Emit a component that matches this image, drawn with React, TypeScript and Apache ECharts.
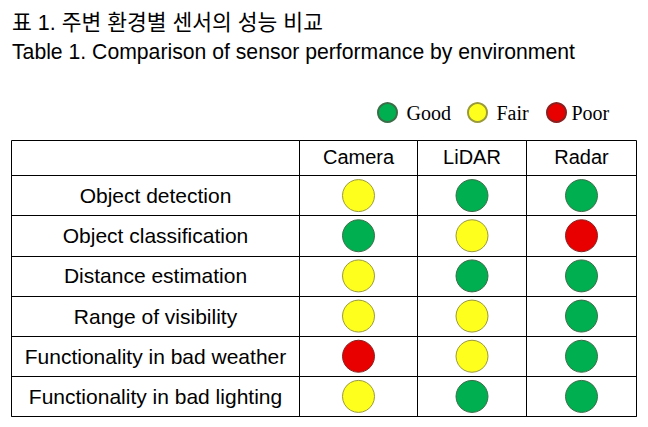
import React, { useEffect, useRef } from "react";
import * as echarts from "echarts";

const titleKo = "표 1. 주변 환경별 센서의 성능 비교";
const titleEn = "Table 1. Comparison of sensor performance by environment";

const features = [
  "Object detection",
  "Object classification",
  "Distance estimation",
  "Range of visibility",
  "Functionality in bad weather",
  "Functionality in bad lighting",
];
const sensors = ["Camera", "LiDAR", "Radar"];
const ratings = ["Good", "Fair", "Poor"];

const cameraRatings = ["Fair", "Good", "Fair", "Fair", "Poor", "Fair"];
const lidarRatings = ["Good", "Fair", "Good", "Fair", "Fair", "Good"];
const radarRatings = ["Good", "Poor", "Good", "Good", "Good", "Good"];
const sensorRatings = [cameraRatings, lidarRatings, radarRatings];

const ratingFill: Record<string, string> = {
  Good: "#00B050",
  Fair: "#FFFF1E",
  Poor: "#E80000",
};
const ratingBorder: Record<string, string> = {
  Good: "#3A6E48",
  Fair: "#9A9A3A",
  Poor: "#8A2020",
};

// layout (px)
const colEdges = [11.5, 299.5, 417.5, 526.5, 636.5];
const headerTop = 140.5;
const bodyTop = 175.5;
const bodyBottom = 416.5;
const legendLefts = [377, 467, 546];

const SANS = "'Liberation Sans', Arial, sans-serif";
const SERIF = "'Liberation Serif', 'Times New Roman', serif";

export default function App() {
  const ref = useRef<HTMLDivElement>(null);

  useEffect(() => {
    document.body.style.margin = "0";
    if (!ref.current) return;
    const chart = echarts.init(ref.current, null, { renderer: "svg" });

    const grids: any[] = [];
    const xAxes: any[] = [];
    const yAxes: any[] = [];

    // body grids: 0 = label column, 1..3 = sensors
    for (let c = 0; c < 4; c++) {
      grids.push({
        show: true,
        left: colEdges[c],
        width: colEdges[c + 1] - colEdges[c],
        top: bodyTop,
        height: bodyBottom - bodyTop,
        borderColor: "#000",
        borderWidth: 1,
        backgroundColor: "transparent",
        containLabel: false,
      });
      xAxes.push({
        type: "category",
        gridIndex: c,
        data: [c === 0 ? "" : sensors[c - 1]],
        axisLine: { show: false },
        axisTick: { show: false },
        axisLabel: { show: false },
        splitLine: { show: false },
      });
      yAxes.push({
        type: "category",
        gridIndex: c,
        data: features,
        inverse: true,
        axisLine: { show: false },
        axisTick: { show: false },
        axisLabel: {
          show: c === 0,
          inside: true,
          interval: 0,
          margin: (colEdges[1] - colEdges[0]) / 2,
          align: "center",
          verticalAlign: "middle",
          fontSize: 21,
          color: "#000",
          fontFamily: SANS,
        },
        splitLine: {
          show: true,
          interval: 0,
          lineStyle: { color: "#000", width: 1 },
        },
      });
    }

    // header grids: 4..7
    for (let c = 0; c < 4; c++) {
      const gi = 4 + c;
      grids.push({
        show: true,
        left: colEdges[c],
        width: colEdges[c + 1] - colEdges[c],
        top: headerTop,
        height: bodyTop - headerTop,
        borderColor: "#000",
        borderWidth: 1,
        backgroundColor: "transparent",
        containLabel: false,
      });
      xAxes.push({
        type: "category",
        gridIndex: gi,
        data: [c === 0 ? "" : sensors[c - 1]],
        position: "bottom",
        axisLine: { show: false },
        axisTick: { show: false },
        axisLabel: {
          show: c !== 0,
          inside: true,
          margin: (bodyTop - headerTop) / 2 + 1,
          verticalAlign: "middle",
          fontSize: 20,
          color: "#000",
          fontFamily: SANS,
        },
        splitLine: { show: false },
      });
      yAxes.push({
        type: "value",
        gridIndex: gi,
        show: false,
        min: 0,
        max: 1,
      });
    }

    const series: any[] = [];
    sensors.forEach((sensor, s) => {
      ratings.forEach((r) => {
        series.push({
          type: "scatter",
          name: r,
          xAxisIndex: s + 1,
          yAxisIndex: s + 1,
          symbol: "circle",
          symbolSize: 32,
          itemStyle: {
            color: ratingFill[r],
            borderColor: ratingBorder[r],
            borderWidth: 1,
            opacity: 1,
          },
          emphasis: { disabled: true },
          data: features
            .map((f, i) => (sensorRatings[s][i] === r ? [sensor, f] : null))
            .filter((d) => d !== null),
        });
      });
    });

    const legends = ratings.map((r, i) => ({
      data: [r],
      left: legendLefts[i],
      top: 102,
      icon: "circle",
      itemWidth: 20,
      itemHeight: 19,
      selectedMode: false,
      padding: 0,
      textStyle: {
        fontFamily: SERIF,
        fontSize: 20,
        color: "#000",
        padding: i === 2 ? [0, 0, 0, 0] : [0, 0, 0, 4],
      },
    }));

    chart.setOption({
      animation: false,
      backgroundColor: "#fff",
      title: [
        {
          text: titleKo,
          left: 12,
          top: 12,
          padding: 0,
          textStyle: {
            fontSize: 21.5,
            fontWeight: "normal",
            color: "#000",
            fontFamily: "'Liberation Sans', 'Noto Sans CJK KR', sans-serif",
          },
        },
        {
          text: titleEn,
          left: 12,
          top: 41,
          padding: 0,
          textStyle: {
            fontSize: 21.2,
            fontWeight: "normal",
            color: "#000",
            fontFamily: SANS,
          },
        },
      ],
      legend: legends,
      grid: grids,
      xAxis: xAxes,
      yAxis: yAxes,
      tooltip: { show: false },
      series,
    });

    return () => chart.dispose();
  }, []);

  return (
    <div
      ref={ref}
      style={{
        width: 648,
        height: 427,
        background: "#fff",
      }}
    />
  );
}
